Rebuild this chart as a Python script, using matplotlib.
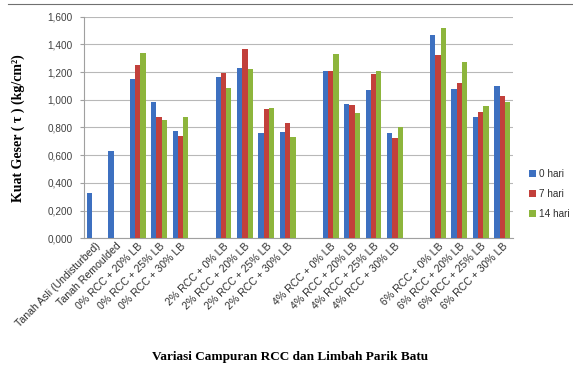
import numpy as np
import matplotlib
matplotlib.use("Agg")
import matplotlib.pyplot as plt
from matplotlib.lines import Line2D
from matplotlib.ticker import FuncFormatter

nan = np.nan

categories = ["Tanah Asli (Undisturbed)", "Tanah Remoulded",
              "0% RCC + 20% LB", "0% RCC + 25% LB", "0% RCC + 30% LB", "",
              "2% RCC + 0% LB", "2% RCC + 20% LB", "2% RCC + 25% LB", "2% RCC + 30% LB", "",
              "4% RCC + 0% LB", "4% RCC + 20% LB", "4% RCC + 25% LB", "4% RCC + 30% LB", "",
              "6% RCC + 0% LB", "6% RCC + 20% LB", "6% RCC + 25% LB", "6% RCC + 30% LB"]

hari_0 = [0.325, 0.630, 1.148, 0.982, 0.775, nan,
          1.162, 1.227, 0.758, 0.765, nan,
          1.206, 0.972, 1.073, 0.758, nan,
          1.468, 1.076, 0.878, 1.097]
hari_7 = [nan, nan, 1.251, 0.876, 0.741, nan,
          1.196, 1.365, 0.936, 0.835, nan,
          1.206, 0.962, 1.186, 0.727, nan,
          1.321, 1.119, 0.912, 1.025]
hari_14 = [nan, nan, 1.336, 0.856, 0.878, nan,
           1.087, 1.220, 0.943, 0.734, nan,
           1.331, 0.902, 1.208, 0.801, nan,
           1.518, 1.273, 0.953, 0.982]

series = [("0 hari", hari_0, "#3D70C0"),
          ("7 hari", hari_7, "#C2403B"),
          ("14 hari", hari_14, "#8DB53C")]

fig = plt.figure(figsize=(5.73, 3.67), dpi=100)
ax = fig.add_axes([84 / 573, 1 - 238.3 / 367, (513 - 84) / 573, (238.3 - 16.7) / 367])

x = np.arange(len(categories))
w = 0.245
for i, (name, vals, col) in enumerate(series):
    ax.bar(x + (i - 1) * w, vals, width=w, color=col, label=name,
           edgecolor="none", zorder=3)

ax.set_xlim(-0.5, len(categories) - 0.5)
ax.set_ylim(0, 1.6)
ax.set_yticks(np.arange(0, 1.61, 0.2))
ax.yaxis.set_major_formatter(FuncFormatter(lambda v, p: f"{v:.3f}".replace(".", ",")))
ax.grid(axis="y", color="#B8B8B8", linewidth=0.8, zorder=0)
for s in ["top", "right"]:
    ax.spines[s].set_visible(False)
ax.spines["left"].set_color("#A0A0A0")
ax.spines["bottom"].set_color("#A0A0A0")
ax.tick_params(axis="y", length=3, color="#A0A0A0", labelsize=7.2, labelcolor="#404040", pad=5)
ax.tick_params(axis="x", length=0, pad=2)
ax.set_xticks(x)
ax.set_xticklabels(categories, rotation=45, ha="right", rotation_mode="anchor",
                   fontsize=7.6, color="#303030", family="Liberation Sans")
for lab in ax.get_yticklabels():
    lab.set_family("Liberation Sans")

fig.text(18 / 573, 1 - 128 / 367, "Kuat Geser ( τ ) (kg/cm²)", rotation=90,
         ha="center", va="center", fontsize=10, fontweight="bold", family="Liberation Serif")
fig.text(290 / 573, 1 - 357 / 367, "Variasi Campuran RCC dan Limbah Parik Batu",
         ha="center", va="center", fontsize=9.5, fontweight="bold", family="Liberation Serif")

leg = fig.legend(loc="center left", bbox_to_anchor=(520 / 573, 1 - 194 / 367),
                 frameon=False, fontsize=7.2, handlelength=0.7, handleheight=0.7,
                 handletextpad=0.3, labelspacing=1.0)
for t in leg.get_texts():
    t.set_family("Liberation Sans")
    t.set_color("#303030")

fig.add_artist(Line2D([8 / 573, 1], [1 - 4 / 367, 1 - 4 / 367], color="#707070", linewidth=0.8))

fig.savefig("out.png", dpi=100)
